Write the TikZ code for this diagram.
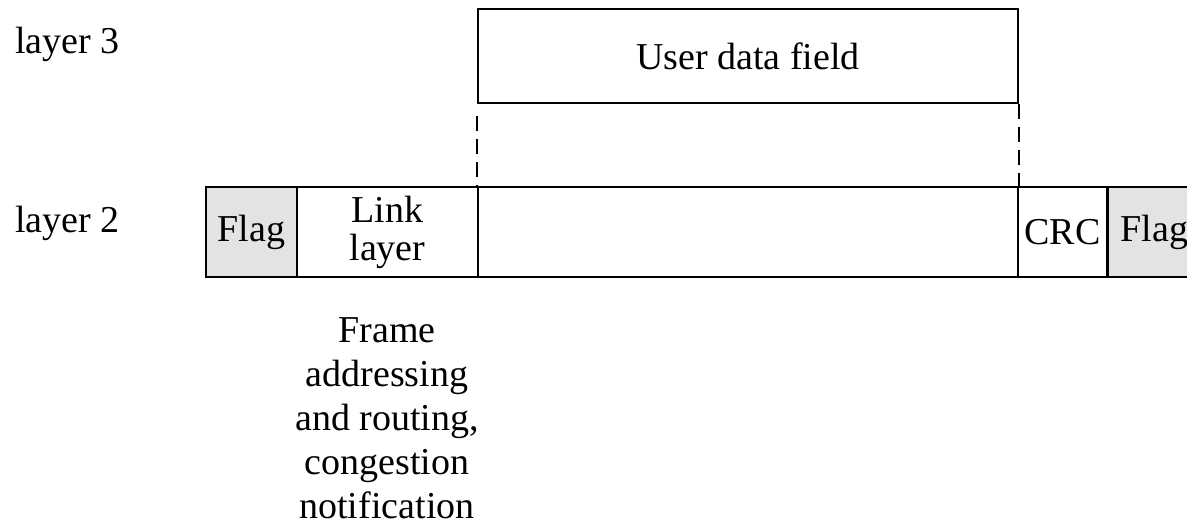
\documentclass[tikz,border=0pt]{standalone}
\usepackage{fontspec}
\setmainfont{Liberation Serif}
\begin{document}
\begin{tikzpicture}[x=0.5pt,y=-0.5pt,
  lbl/.style={font=\fontsize{19}{22}\selectfont, inner sep=0pt},
  cell/.style={draw=black, line width=1pt, inner sep=0pt, minimum height=45pt,
    font=\fontsize{19}{19}\selectfont, align=center},
  flagcell/.style={cell, fill=gray!22},
  dashline/.style={line width=1pt, dash pattern=on 7.5pt off 4pt}]
\useasboundingbox (0,0) rectangle (1187,525);
% labels
\node[lbl, anchor=base west] (l3) at (15,53) {layer 3};
\node[lbl, anchor=base west] (l2) at (15,232) {layer 2};
% layer 3 box
\node[cell, minimum width=270pt, minimum height=47pt] (user) at (748,56) {User data field};
% layer 2 row
\node[flagcell, minimum width=45.5pt] (flag1) at (251.5,232) {Flag};
\node[cell, minimum width=90.5pt] (link) at (387.5,232) {Link\\layer};
\node[cell, minimum width=270pt] (data) at (748,232) {};
\node[cell, minimum width=44.5pt] (crc) at (1062.5,232) {CRC};
\node[flagcell, minimum width=46.5pt, anchor=west] (flag2) at (1107,232) {Flag};
% dashed connectors
\draw[dashline] ([yshift=-6pt]user.south west) -- (data.north west);
\draw[dashline] (user.south east) -- (data.north east);
% bottom text
\node[lbl, align=center, anchor=north] (desc) at (387,317) {Frame\\addressing\\and routing,\\congestion\\notification};
\end{tikzpicture}
\end{document}
